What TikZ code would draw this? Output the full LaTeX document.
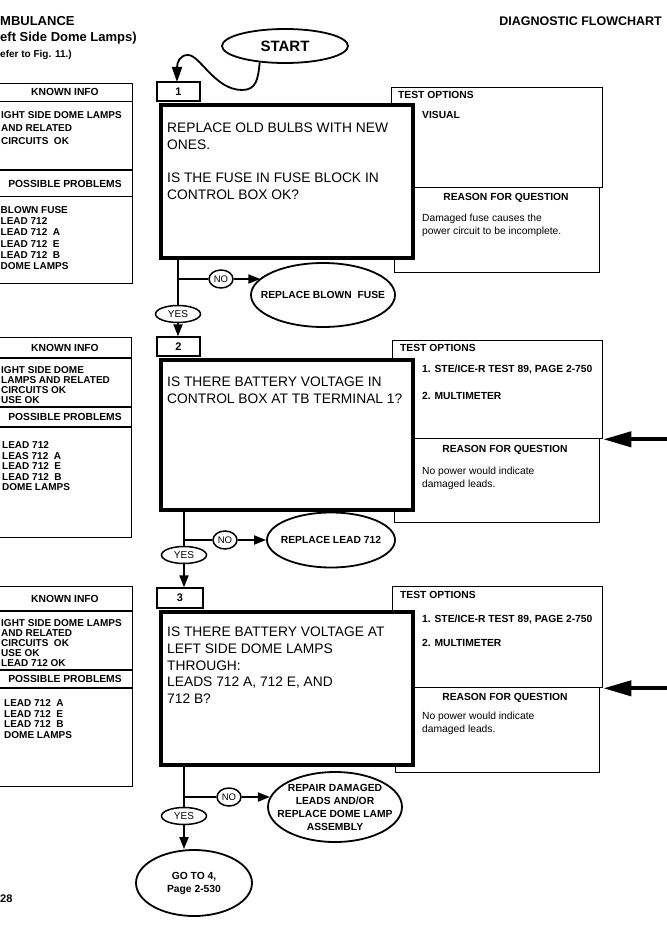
\documentclass[tikz,border=0pt]{standalone}
\usepackage{fontspec}
\setmainfont{Liberation Sans}
\usetikzlibrary{arrows.meta,shapes.geometric,positioning}

\tikzset{
  panelbox/.style={draw, line width=1.3pt, inner sep=0pt, anchor=north west},
  panelline/.style={line width=1.3pt},
  qbox/.style={draw, line width=4pt, fill=white, inner sep=0pt, anchor=north west},
  tabbox/.style={draw, line width=1.3pt, fill=white, minimum width=43pt, minimum height=19pt, inner sep=0pt,
    font=\fontsize{11}{13}\selectfont\bfseries},
  qtext/.style={anchor=north west, inner sep=0pt, align=left, font=\fontsize{13.8}{16.6}\selectfont},
  panelhead/.style={inner sep=0pt, font=\fontsize{10.3}{12}\selectfont\bfseries},
  listtext/.style={anchor=north west, inner sep=0pt, align=left, font=\fontsize{10}{#1}\selectfont\bfseries},
  opttext/.style={anchor=west, inner sep=0pt, font=\fontsize{10.3}{12}\selectfont\bfseries},
  whytext/.style={anchor=north west, inner sep=0pt, align=left, font=\fontsize{10.3}{13}\selectfont},
  endnode/.style={draw, ellipse, line width=1.8pt, inner xsep=-25pt, inner ysep=-12pt, align=center,
    font=\fontsize{10.3}{13}\selectfont\bfseries},
  yesnode/.style={draw, ellipse, line width=1.5pt, fill=white, inner sep=0pt, minimum width=45pt, minimum height=17pt,
    font=\fontsize{10}{12}\selectfont},
  nonode/.style={draw, ellipse, line width=1.5pt, inner sep=0pt, minimum width=24pt, minimum height=18pt,
    font=\fontsize{9.5}{11}\selectfont},
  link/.style={line width=1.8pt},
  linkarrow/.style={line width=1.8pt, -{Triangle[length=12pt,width=9pt]}},
  bigarrow/.style={line width=4pt, -{Triangle[length=28pt,width=15pt]}}
}

\begin{document}
\begin{tikzpicture}[x=1pt,y=-1pt]
  \useasboundingbox (0,0) rectangle (666,928);

  \node[anchor=base west, inner sep=0pt, font=\fontsize{13}{15}\selectfont\bfseries] (title1) at (0,26) {MBULANCE};
  \node[anchor=base west, inner sep=0pt, font=\fontsize{13}{15}\selectfont\bfseries] (title2) at (0,42) {eft Side Dome Lamps)};
  \node[anchor=base west, inner sep=0pt, font=\fontsize{10}{12}\selectfont\bfseries] (title3) at (0,58) {efer to Fig. 11.)};
  \node[anchor=base east, inner sep=0pt, font=\fontsize{12.5}{15}\selectfont\bfseries] (title4) at (662,26) {DIAGNOSTIC FLOWCHART};
  \node[anchor=base west, inner sep=0pt, font=\fontsize{11}{13}\selectfont\bfseries] (pagenum) at (0,902) {28};

  \node[endnode, minimum width=126pt, minimum height=34pt, font=\fontsize{15}{17}\selectfont\bfseries] (start) at (285,46) {START};

  % left panels
  \node[panelbox, minimum width=137pt, minimum height=200pt] (info1) at (-5,83) {};
  \draw[panelline] (-5,101.5) -- (132,101.5) (-5,170) -- (132,170) (-5,196.5) -- (132,196.5);
  \node[panelhead] at (65,92) {KNOWN INFO};
  \node[listtext=13] at (1,111.4) {IGHT SIDE DOME LAMPS\\AND RELATED\\CIRCUITS\ \ OK};
  \node[panelhead] at (65,183.5) {POSSIBLE PROBLEMS};
  \node[listtext=11.2] at (0.5,206.4) {BLOWN FUSE\\LEAD 712\\LEAD 712\ \ A\\LEAD 712\ \ E\\LEAD 712\ \ B\\DOME LAMPS};

  \node[panelbox, minimum width=136pt, minimum height=200pt] (info2) at (-5,337) {};
  \draw[panelline] (-5,358) -- (131,358) (-5,407) -- (131,407) (-5,427) -- (131,427);
  \node[panelhead] at (65,348) {KNOWN INFO};
  \node[listtext=10] at (1,366.4) {IGHT SIDE DOME\\LAMPS AND RELATED\\CIRCUITS OK\\USE OK};
  \node[panelhead] at (65,417) {POSSIBLE PROBLEMS};
  \node[listtext=10.5] at (2,441.4) {LEAD 712\\LEAS 712\ \ A\\LEAD 712\ \ E\\LEAD 712\ \ B\\DOME LAMPS};

  \node[panelbox, minimum width=137pt, minimum height=200pt] (info3) at (-5,586) {};
  \draw[panelline] (-5,611) -- (132,611) (-5,670) -- (132,670) (-5,688) -- (132,688);
  \node[panelhead] at (65,599) {KNOWN INFO};
  \node[listtext=10] at (1,619.4) {IGHT SIDE DOME LAMPS\\AND RELATED\\CIRCUITS\ \ OK\\USE OK\\LEAD 712 OK};
  \node[panelhead] at (65,679) {POSSIBLE PROBLEMS};
  \node[listtext=10.7] at (4,699.4) {LEAD 712\ \ A\\LEAD 712\ \ E\\LEAD 712\ \ B\\DOME LAMPS};

  % step 1
  \node[tabbox] (tab1) at (178.5,91.5) {1};
  \node[panelbox, minimum width=211pt, minimum height=100pt] (opt1) at (391,87) {};
  \node[panelbox, minimum width=205pt, minimum height=85pt] (why1) at (394,187) {};
  \node[qbox, minimum width=252pt, minimum height=153pt] (q1) at (159,103) {};
  \node[qtext] at (167,123) {REPLACE OLD BULBS WITH NEW\\ONES.\\[16.6pt]IS THE FUSE IN FUSE BLOCK IN\\CONTROL BOX OK?};
  \node[opttext] at (398,95) {TEST OPTIONS};
  \node[opttext] at (422,115) {VISUAL};
  \node[panelhead] at (506,198) {REASON FOR QUESTION};
  \node[whytext] at (422,213.5) {Damaged fuse causes the\\power circuit to be incomplete.};
  \node[nonode] (no1) at (221,279) {NO};
  \node[yesnode] (yes1) at (178,314) {YES};
  \node[endnode, minimum width=144pt, minimum height=64pt] (fix1) at (323,295) {REPLACE BLOWN\ \ FUSE};

  % step 2
  \node[tabbox] (tab2) at (178.5,346.5) {2};
  \node[panelbox, minimum width=210pt, minimum height=98pt] (opt2) at (392,340) {};
  \node[panelbox, minimum width=205pt, minimum height=84pt] (why2) at (394,438) {};
  \node[qbox, minimum width=252pt, minimum height=150pt] (q2) at (159,358) {};
  \node[qtext] at (167,377) {IS THERE BATTERY VOLTAGE IN\\CONTROL BOX AT TB TERMINAL 1?};
  \node[opttext] at (400,348) {TEST OPTIONS};
  \node[opttext] at (422,370) {1. STE/ICE-R TEST 89, PAGE 2-750};
  \node[opttext] at (422,396) {2. MULTIMETER};
  \node[panelhead] at (505,450) {REASON FOR QUESTION};
  \node[whytext] at (422,466.5) {No power would indicate\\damaged leads.};
  \node[nonode] (no2) at (225,540) {NO};
  \node[yesnode] (yes2) at (184,555) {YES};
  \node[endnode, minimum width=128pt, minimum height=55pt] (fix2) at (331,540) {REPLACE LEAD 712};

  % step 3
  \node[tabbox, minimum width=46pt, minimum height=20pt] (tab3) at (180,598) {3};
  \node[panelbox, minimum width=210pt, minimum height=101pt] (opt3) at (392,586) {};
  \node[panelbox, minimum width=204pt, minimum height=85pt] (why3) at (395,687) {};
  \node[qbox, minimum width=252pt, minimum height=153pt] (q3) at (159,610) {};
  \node[qtext] at (167,627) {IS THERE BATTERY VOLTAGE AT\\LEFT SIDE DOME LAMPS\\THROUGH:\\LEADS 712 A, 712 E, AND\\712 B?};
  \node[opttext] at (400,595) {TEST OPTIONS};
  \node[opttext] at (422,620) {1. STE/ICE-R TEST 89, PAGE 2-750};
  \node[opttext] at (422,643) {2. MULTIMETER};
  \node[panelhead] at (505,698) {REASON FOR QUESTION};
  \node[whytext] at (422,711.5) {No power would indicate\\damaged leads.};
  \node[nonode] (no3) at (229,797) {NO};
  \node[yesnode] (yes3) at (184,816) {YES};
  \node[endnode, minimum width=134pt, minimum height=70pt] (fix3) at (335,807) {REPAIR DAMAGED\\LEADS AND/OR\\REPLACE DOME LAMP\\ASSEMBLY};
  \node[endnode, minimum width=116pt, minimum height=66pt] (goto) at (194,883) {GO TO 4,\\Page 2-530};

  % connectors
  \draw[line width=1.8pt, -{Triangle[length=15pt,width=10pt]}] (start.213) .. controls (258,80) and (256,90) .. (242,90)
    .. controls (215,90) and (200,55) .. (188,55) .. controls (180,55) and (177,62) .. (177,82);
  \foreach \i in {1,2,3} {
    \draw[link] (yes\i |- q\i.south) -- (yes\i.north);
    \draw[link] (yes\i |- no\i) -- (no\i.west);
  }
  \draw[linkarrow] (no1.east) -- (no1 -| fix1.165);
  \draw[linkarrow] (no2.east) -- (fix2.west);
  \draw[linkarrow] (no3.east) -- (no3 -| fix3.171);
  \draw[linkarrow] (yes1.south) -- (yes1 |- tab2.north);
  \draw[linkarrow] (yes2.south) -- (yes2 |- tab3.north);
  \draw[linkarrow] (yes3.south) -- (yes3 |- goto.north);
  \foreach \b in {opt2,opt3}
    \draw[bigarrow] ([xshift=90pt]\b.south east) -- (\b.south east);
\end{tikzpicture}
\end{document}
